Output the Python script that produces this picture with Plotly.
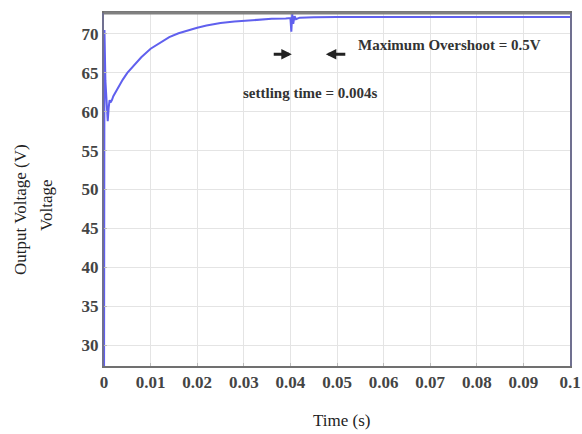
import plotly.graph_objects as go

# Data
time_s = [0, 0.00005, 0.0001, 0.0003, 0.0006, 0.0008, 0.001, 0.0012, 0.0014, 0.0017,
          0.002, 0.003, 0.004, 0.005, 0.006, 0.008, 0.010, 0.012, 0.014, 0.016,
          0.018, 0.020, 0.022, 0.025, 0.028, 0.030, 0.033, 0.036, 0.039, 0.0400,
          0.0402, 0.0404, 0.0406, 0.0409, 0.0412, 0.042, 0.045, 0.05, 0.06, 0.07,
          0.08, 0.09, 0.1]
voltage = [20, 68, 70.5, 64, 59.5, 58.8, 60.5, 61.5, 61.2, 61.5,
           62.0, 63.1, 64.1, 65.0, 65.7, 67.0, 68.1, 68.9, 69.6, 70.1,
           70.5, 70.8, 71.1, 71.4, 71.6, 71.7, 71.85, 71.95, 72.0, 72.05,
           70.3, 72.6, 71.3, 72.3, 71.9, 72.1, 72.15, 72.2, 72.2, 72.2,
           72.2, 72.2, 72.2]

x_ticks = [0, 0.01, 0.02, 0.03, 0.04, 0.05, 0.06, 0.07, 0.08, 0.09, 0.1]
x_tick_labels = ["0", "0.01", "0.02", "0.03", "0.04", "0.05", "0.06", "0.07", "0.08", "0.09", "0.1"]
y_ticks = [30, 35, 40, 45, 50, 55, 60, 65, 70]

SERIF = "Liberation Serif, Times New Roman, serif"

fig = go.Figure()
fig.add_trace(go.Scatter(x=time_s, y=voltage, mode="lines",
                         line=dict(color="#6060ee", width=2), showlegend=False))

fig.update_layout(
    width=582, height=434, autosize=False,
    margin=dict(l=104, r=12, t=13, b=68),
    paper_bgcolor="white", plot_bgcolor="white",
    font=dict(family=SERIF, color="#333333"),
    xaxis=dict(range=[0, 0.1], tickvals=x_ticks, ticktext=x_tick_labels,
               automargin=False,
               showgrid=True, gridcolor="#e4e4e4", gridwidth=1,
               showline=True, linecolor="#707070", linewidth=2, mirror=True,
               ticks="inside", ticklen=3, tickcolor="#bbbbbb",
               tickfont=dict(family=SERIF, size=17, color="#444444", weight="bold"),
               zeroline=False),
    yaxis=dict(range=[27.3, 72.7], tickvals=y_ticks,
               automargin=False,
               showgrid=True, gridcolor="#e4e4e4", gridwidth=1,
               showline=True, linecolor="#707090", linewidth=2, mirror=True,
               ticks="inside", ticklen=3, tickcolor="#bbbbbb",
               tickfont=dict(family=SERIF, size=17, color="#444444", weight="bold"),
               zeroline=False),
)

# Top border thicker gray
fig.add_shape(type="line", xref="paper", yref="paper", x0=0, x1=1, y0=1, y1=1,
              line=dict(color="#808080", width=3))

# Axis titles as annotations
fig.add_annotation(xref="paper", yref="paper", x=0.5, y=0, xshift=4,
                   text="Time (s)", showarrow=False, yshift=-54, xanchor="center", yanchor="middle",
                   font=dict(family=SERIF, size=17, color="#222222"))
fig.add_annotation(xref="paper", yref="paper", x=0, y=0.5, xshift=-95, yshift=-20,
                   text="Output Voltage (V)", textangle=-90, showarrow=False,
                   font=dict(family=SERIF, size=17, color="#222222"))
fig.add_annotation(xref="paper", yref="paper", x=0, y=0.5, xshift=-69, yshift=-16,
                   text="Voltage", textangle=-90, showarrow=False,
                   font=dict(family=SERIF, size=17, color="#222222"))

# Text annotations
fig.add_annotation(x=0.0742, y=68.6, text="<b>Maximum Overshoot = 0.5V</b>", showarrow=False,
                   font=dict(family=SERIF, size=15, color="#333333"))
fig.add_annotation(x=0.0444, y=62.4, text="<b>settling time = 0.004s</b>", showarrow=False,
                   font=dict(family=SERIF, size=15, color="#333333"))

# Arrows
fig.add_annotation(x=0.0403, y=67.4, ax=0.0361, ay=67.4, axref="x", ayref="y",
                   text="", showarrow=True, arrowhead=2, arrowsize=0.7, arrowwidth=3,
                   arrowcolor="#222222")
fig.add_annotation(x=0.0476, y=67.4, ax=0.0521, ay=67.4, axref="x", ayref="y",
                   text="", showarrow=True, arrowhead=2, arrowsize=0.7, arrowwidth=3,
                   arrowcolor="#222222")

fig.write_html("out.html", config={"responsive": False})
